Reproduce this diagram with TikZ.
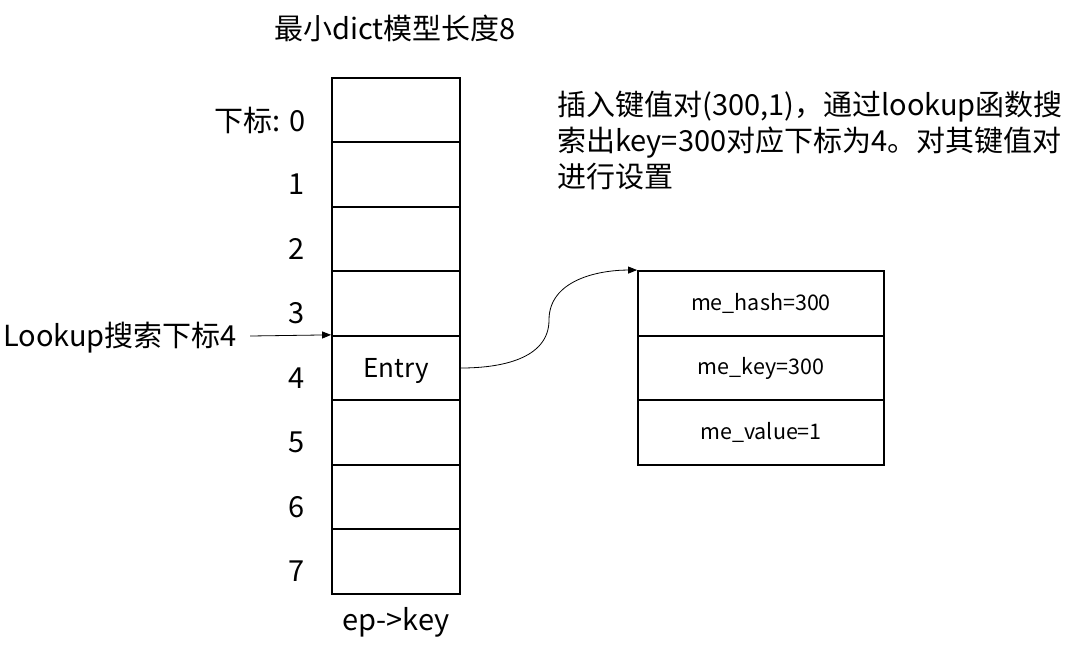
\documentclass[tikz,border=0pt]{standalone}
\usepackage{fontspec}
\setmainfont{Noto Sans CJK SC}
\usetikzlibrary{arrows.meta,positioning}

\begin{document}
\begin{tikzpicture}[x=1pt, y=-1pt,
  cell/.style={draw, line width=1.8pt, minimum width=128pt, minimum height=64.5pt, inner sep=0pt},
  field/.style={draw, line width=1.8pt, minimum width=246pt, minimum height=64.7pt, inner sep=0pt, font=\fontsize{21.5}{24}\selectfont},
  lbl/.style={inner sep=0pt, font=\fontsize{29}{36}\selectfont},
  link/.style={line width=0.8pt, -{Triangle[length=9pt,width=7pt]}}]
  \useasboundingbox (0,0) rectangle (1079,649);

  \node[lbl] (title) at (395,28) {最小dict模型长度8};

  % dict array
  \foreach \i in {0,...,7}
    \node[cell] (c\i) at (396,{110+64.5*\i}) {};
  \node[lbl, anchor=east] (i0) at (306,120) {下标: 0};
  \foreach \i in {1,...,7}
    \node[lbl] (i\i) at (297,{120+64.5*\i}) {\i};
  \node[lbl, font=\fontsize{26}{30}\selectfont] (entry) at ([yshift=-3pt]c4.center) {Entry};
  \node[lbl] (ep) at (396,622) {ep->key};

  % entry fields
  \node[field] (f1) at (761,303.3) {me\_hash=300};
  \node[field] (f2) at (761,368) {me\_key=300};
  \node[field] (f3) at (761,432.7) {me\_value=1};

  \node[lbl, anchor=west, align=left] (note) at (557,140)
    {插入键值对(300,1)，通过lookup函数搜\\索出key=300对应下标为4。对其键值对\\进行设置};

  \node[lbl, anchor=west] (lookup) at (3,338) {Lookup搜索下标4};
  \draw[link] ([xshift=13pt,yshift=2pt]lookup.east) -- (c4.north west);

  \coordinate (bend) at (549,320);
  \draw[link] (c4.east) to[out=0,in=-90] (bend) to[out=90,in=180] (f1.north west);
\end{tikzpicture}
\end{document}
